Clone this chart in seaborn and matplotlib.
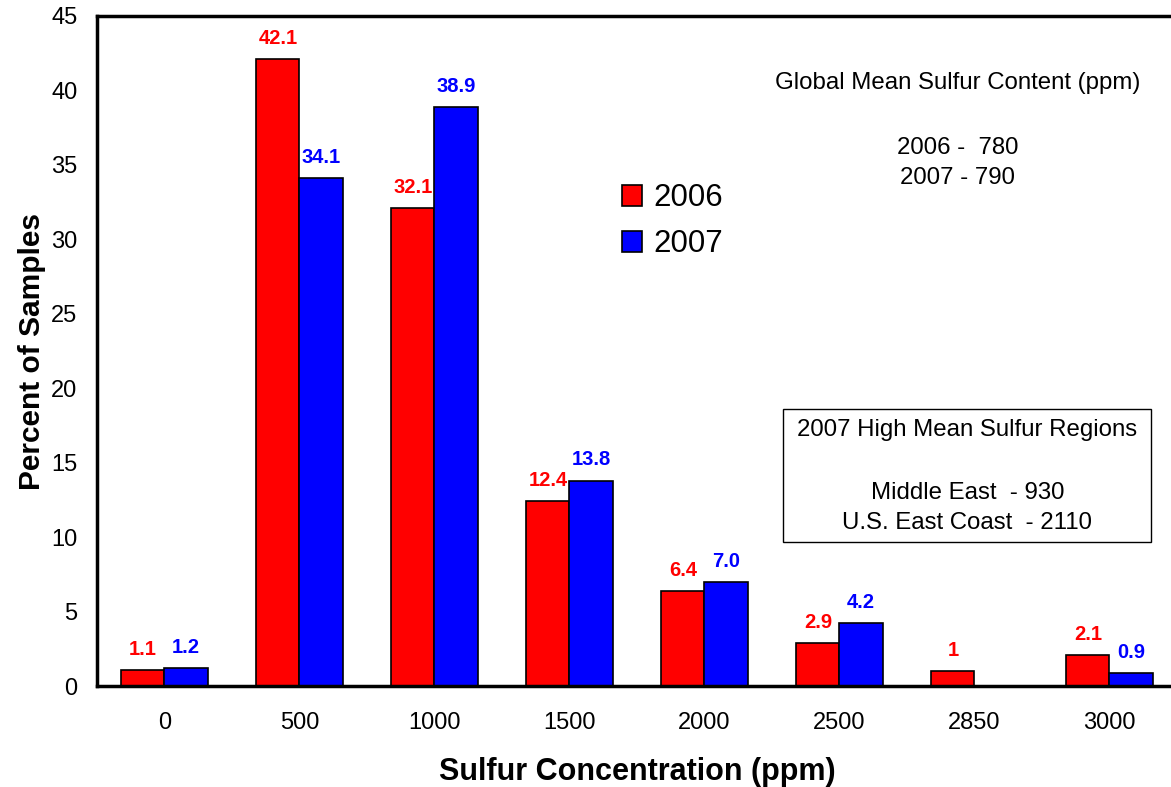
import pandas as pd
import numpy as np
import matplotlib
matplotlib.use("Agg")
import matplotlib.pyplot as plt
import seaborn as sns
from matplotlib.patches import Rectangle

# ----- Data -----
categories = ["0", "500", "1000", "1500", "2000", "2500", "2850", "3000"]
years = ["2006", "2007"]
pct_2006 = [1.1, 42.1, 32.1, 12.4, 6.4, 2.9, 1.0, 2.1]
pct_2007 = [1.2, 34.1, 38.9, 13.8, 7.0, 4.2, np.nan, 0.9]
labels_2006 = ["1.1", "42.1", "32.1", "12.4", "6.4", "2.9", "1", "2.1"]
labels_2007 = ["1.2", "34.1", "38.9", "13.8", "7.0", "4.2", "", "0.9"]
yticks = [0, 5, 10, 15, 20, 25, 30, 35, 40, 45]

global_title = "Global Mean Sulfur Content (ppm)"
global_lines = ["2006 -  780", "2007 - 790"]
region_title = "2007 High Mean Sulfur Regions"
region_lines = ["Middle East  - 930", "U.S. East Coast  - 2110"]

df = pd.DataFrame({
    "Sulfur": categories * 2,
    "Year": [years[0]] * len(categories) + [years[1]] * len(categories),
    "Percent": pct_2006 + pct_2007,
})
colors = {"2006": "#ff0000", "2007": "#0000ff"}
bar_labels = {"2006": labels_2006, "2007": labels_2007}

# ----- Style -----
sns.set_style("white")
plt.rcParams["font.family"] = ["Liberation Sans", "DejaVu Sans"]
plt.rcParams["text.color"] = "black"
plt.rcParams["axes.labelcolor"] = "black"
plt.rcParams["xtick.color"] = "black"
plt.rcParams["ytick.color"] = "black"

fig = plt.figure(figsize=(11.71, 7.87), dpi=100)
ax = fig.add_axes([0.0828, 0.1283, 0.9223, 0.8514])

sns.barplot(data=df, x="Sulfur", y="Percent", hue="Year", order=categories,
            hue_order=years, palette=colors, saturation=1, edgecolor="black",
            linewidth=1.2, width=0.64, errorbar=None, ax=ax)

# ----- Value labels -----
for year, cont in zip(years, ax.containers):
    for p in cont.patches:
        h = p.get_height()
        if np.isnan(h):
            continue
        idx = int(round(p.get_x() + p.get_width() / 2))
        ax.annotate(bar_labels[year][idx], (p.get_x() + p.get_width() / 2, h),
                    xytext=(0, 8), textcoords="offset points", ha="center",
                    va="bottom", color=colors[year], fontsize=14.5,
                    fontweight="bold")

# ----- Axes -----
ax.set_ylim(0, 45)
ax.set_yticks(yticks)
ax.set_xlim(-0.5, 7.45)
ax.set_xticks(np.arange(-0.5, 8, 1), minor=True)
ax.tick_params(axis="x", which="major", length=0, pad=19, labelsize=17)
ax.tick_params(axis="x", which="minor", length=8, width=1.5, direction="out",
               color="black")
ax.tick_params(axis="y", length=8, width=1.5, direction="out", color="black",
               labelsize=17, pad=6)
for side in ["left", "bottom", "top"]:
    ax.spines[side].set_linewidth(2.5)
    ax.spines[side].set_color("black")
ax.spines["right"].set_visible(False)

ax.set_xlabel("Sulfur Concentration (ppm)", fontsize=22, fontweight="bold",
              labelpad=16)
ax.set_ylabel("Percent of Samples", fontsize=21.5, fontweight="bold",
              labelpad=4)

# ----- Legend -----
handles, labels = ax.get_legend_handles_labels()
ax.legend(handles, labels, loc="upper left", bbox_to_anchor=(0.46, 0.792),
          frameon=False, fontsize=22.5, handlelength=0.65, handleheight=0.65,
          handletextpad=0.35, labelspacing=0.5)

# ----- Annotations -----
ax.text(0.797, 0.90, global_title, transform=ax.transAxes, ha="center",
        va="center", fontsize=17.3)
ax.text(0.797, 0.803, global_lines[0], transform=ax.transAxes, ha="center",
        va="center", fontsize=17.3)
ax.text(0.797, 0.758, global_lines[1], transform=ax.transAxes, ha="center",
        va="center", fontsize=17.3)

ax.add_patch(Rectangle((0.635, 0.215), 0.341, 0.1985, transform=ax.transAxes,
                       fill=False, edgecolor="black", linewidth=1.0))
ax.text(0.806, 0.382, region_title, transform=ax.transAxes, ha="center",
        va="center", fontsize=17.3)
ax.text(0.806, 0.288, region_lines[0], transform=ax.transAxes, ha="center",
        va="center", fontsize=17.3)
ax.text(0.806, 0.243, region_lines[1], transform=ax.transAxes, ha="center",
        va="center", fontsize=17.3)

fig.savefig("out.png", dpi=100)
